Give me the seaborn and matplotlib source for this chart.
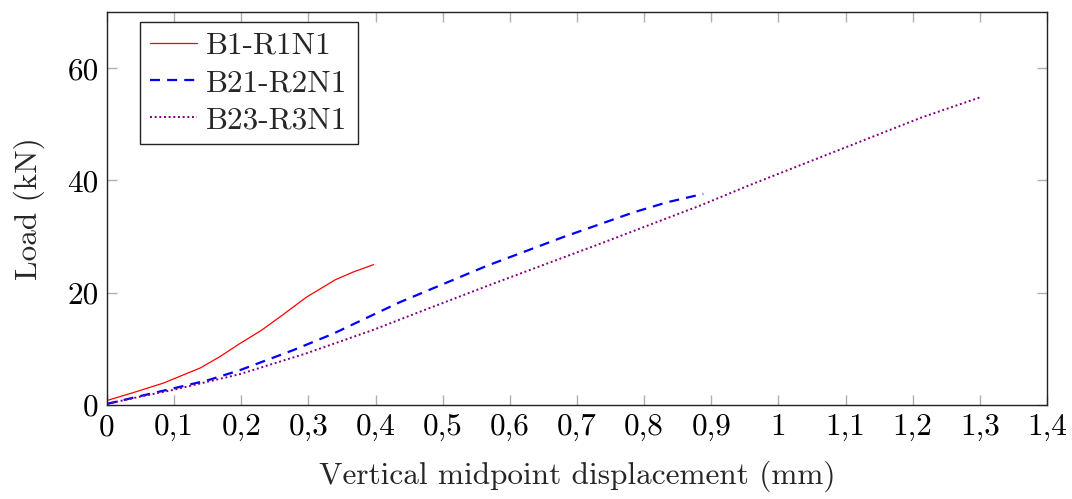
import matplotlib
matplotlib.use("Agg")
import matplotlib.pyplot as plt
import seaborn as sns
import pandas as pd

# Load–displacement curves for the three beams
red_x = [0, 0.039, 0.084, 0.139, 0.168, 0.196, 0.23, 0.26, 0.297, 0.34, 0.367, 0.397]
red_y = [0.8, 2.2, 3.9, 6.6, 8.6, 10.8, 13.3, 15.9, 19.2, 22.3, 23.7, 25.0]

blue_x = [0, 0.05, 0.099, 0.15, 0.198, 0.278, 0.337, 0.397, 0.436, 0.50,
          0.566, 0.677, 0.784, 0.834, 0.888]
blue_y = [0.2, 1.6, 2.96, 4.4, 6.2, 9.8, 12.7, 16.1, 18.3, 21.5,
          24.8, 29.8, 34.3, 36.1, 37.6]

purple_x = [0, 0.05, 0.099, 0.198, 0.297, 0.397, 0.466, 0.575, 0.734,
            0.883, 0.958, 1.077, 1.213, 1.303]
purple_y = [0.2, 1.5, 2.7, 5.5, 9.2, 13.4, 16.6, 21.6, 28.7,
            35.5, 39.2, 44.8, 51.2, 54.9]

series_names = ["B1-R1N1", "B21-R2N1", "B23-R3N1"]

x_ticks = [0, 0.1, 0.2, 0.3, 0.4, 0.5, 0.6, 0.7, 0.8, 0.9, 1.0, 1.1, 1.2, 1.3, 1.4]
x_tick_labels = ["0", "0,1", "0,2", "0,3", "0,4", "0,5", "0,6", "0,7", "0,8",
                 "0,9", "1", "1,1", "1,2", "1,3", "1,4"]
y_ticks = [0, 20, 40, 60]
y_tick_labels = ["0", "20", "40", "60"]

sns.set_style("ticks")
plt.rcParams["font.family"] = ["cmr10", "DejaVu Serif"]
plt.rcParams["axes.formatter.use_mathtext"] = True
plt.rcParams["mathtext.fontset"] = "cm"

FS = 22.5

fig = plt.figure(figsize=(10.72, 4.99), dpi=100)
ax = fig.add_axes([0.0998, 0.1884, 0.8769, 0.7876])

styles = [
    dict(color="#ff0000", linewidth=0.9, linestyle="-"),
    dict(color="#0000ff", linewidth=1.6, linestyle=(0, (4.5, 3.2))),
    dict(color="#800080", linewidth=1.4, linestyle=(0, (1.0, 1.4))),
]
curves = [(red_x, red_y), (blue_x, blue_y), (purple_x, purple_y)]

for name, (xs, ys), st in zip(series_names, curves, styles):
    df = pd.DataFrame({"x": xs, "y": ys})
    sns.lineplot(data=df, x="x", y="y", ax=ax, sort=False, estimator=None,
                 label=name, **st)

ax.set_xlim(0, 1.4)
ax.set_ylim(0, 70)
ax.set_xticks(x_ticks)
ax.set_xticklabels(x_tick_labels)
ax.set_yticks(y_ticks)
ax.set_yticklabels(y_tick_labels)

ax.tick_params(axis="both", which="both", direction="in", length=7, width=1,
               color="#b0b0b0", labelsize=FS, labelcolor="black",
               top=True, right=True, pad=6)

for sp in ax.spines.values():
    sp.set_visible(True)
    sp.set_color("#222222")
    sp.set_linewidth(1.0)

ax.set_xlabel("Vertical midpoint displacement (mm)", fontsize=FS, labelpad=14)
ax.set_ylabel("Load (kN)", fontsize=FS, labelpad=16)

leg = ax.legend(loc="upper left", bbox_to_anchor=(0.035, 0.975),
                borderaxespad=0, fontsize=FS, frameon=True, fancybox=False,
                framealpha=1, edgecolor="#222222", handlelength=1.5,
                handletextpad=0.3, borderpad=0.32, labelspacing=0.3)
leg.get_frame().set_linewidth(1.0)

fig.savefig("out.png", dpi=100)
